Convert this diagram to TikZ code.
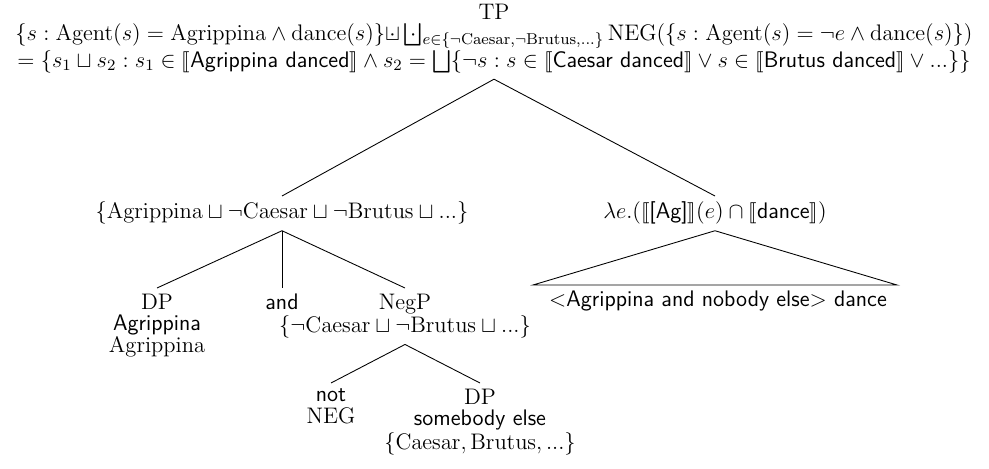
\documentclass[tikz,border=0pt]{standalone}
\usepackage{fix-cm}
\usepackage{amsmath,amssymb,stmaryrd}
\usetikzlibrary{positioning}
\newcommand{\sqd}{\mathord{\ooalign{$\sqcup$\cr\hidewidth$\cdot$\hidewidth\cr}}}
\newcommand{\bigsqd}{\mathop{\ooalign{$\bigsqcup$\cr\hidewidth$\cdot$\hidewidth\cr}}\nolimits}
\tikzset{
  lbl/.style={align=center, anchor=north, inner sep=3.3pt, font=\fontsize{12.85pt}{12.2pt}\selectfont},
  edge/.style={line width=0.5pt}
}

\begin{document}
\begin{tikzpicture}[x=0.5714pt, y=-0.5714pt]
  \useasboundingbox (0,0) rectangle (989,469);
  % root
  \node[lbl] (tp) at (494,-2) {TP\\
    $\{s:\mathrm{Agent}(s)=\mathrm{Agrippina}\wedge\mathrm{dance}(s)\}\sqd\bigsqd_{e\in\{\neg\mathrm{Caesar},\neg\mathrm{Brutus},...\}}\mathrm{NEG}(\{s:\mathrm{Agent}(s)=\neg e\wedge\mathrm{dance}(s)\})$\\
    $=\{s_1\sqcup s_2:s_1\in\llbracket\textsf{Agrippina danced}\rrbracket\wedge s_2=\bigsqcup\{\neg s:s\in\llbracket\textsf{Caesar danced}\rrbracket\vee s\in\llbracket\textsf{Brutus danced}\rrbracket\vee...\}\}$};
  % level 1
  \node[lbl] (conj) at (282,196) {$\{\mathrm{Agrippina}\sqcup\neg\mathrm{Caesar}\sqcup\neg\mathrm{Brutus}\sqcup...\}$};
  \node[lbl] (lam) at (715,196) {$\lambda e.(\llbracket\textsf{[Ag]}\rrbracket(e)\cap\llbracket\textsf{dance}\rrbracket)$};
  % level 2
  \node[lbl] (dp) at (157,288) {DP\\ \textsf{Agrippina}\\ Agrippina};
  \node[lbl] (and) at (282,288) {\textsf{and}};
  \node[lbl] (negp) at (405,288) {NegP\\ $\{\neg\mathrm{Caesar}\sqcup\neg\mathrm{Brutus}\sqcup...\}$};
  \node[lbl] (vp) at (718,285) {$<$\textsf{Agrippina and nobody else}$>$ \textsf{dance}};
  \coordinate (bl) at (533,285);
  \coordinate (br) at (897,285);
  % level 3
  \node[lbl] (not) at (331,383) {\textsf{not}\\ NEG};
  \node[lbl] (dpb) at (480,383) {DP\\ \textsf{somebody else}\\ $\{\mathrm{Caesar},\mathrm{Brutus},...\}$};
  % branches
  \draw[edge] (tp.south) -- (conj.north);
  \draw[edge] (tp.south) -- (lam.north);
  \foreach \c in {dp,and,negp}{\draw[edge] (conj.south) -- (\c.north);}
  \draw[edge] (lam.south) -- (bl) -- (br) -- cycle;
  \draw[edge] (negp.south) -- (not.north);
  \draw[edge] (negp.south) -- (dpb.north);
\end{tikzpicture}
\end{document}
